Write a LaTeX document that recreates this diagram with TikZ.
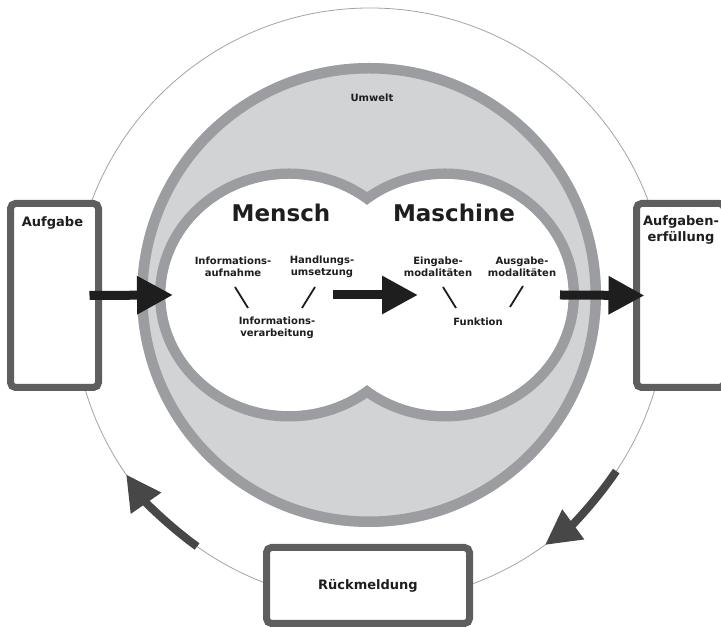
\documentclass[tikz,border=0pt]{standalone}
\usepackage{fontspec}
\setmainfont{DejaVu Sans}
\usepackage{xcolor}
\usepackage{tikz}
\usetikzlibrary{arrows.meta}
\usetikzlibrary{calc}

\definecolor{umweltfill}{HTML}{D2D3D5}
\definecolor{umweltring}{HTML}{9C9DA1}
\definecolor{boxgray}{HTML}{5E5E5E}
\definecolor{fbgray}{HTML}{474747}
\definecolor{thingray}{HTML}{A3A3A3}
\definecolor{textblack}{HTML}{1E1E1E}

\begin{document}
\begin{tikzpicture}[x=1pt,y=1pt,
		title/.style={text=textblack, font=\fontsize{23}{27}\selectfont\bfseries},
		small/.style={text=textblack, font=\fontsize{10}{12.5}\selectfont\bfseries, align=center},
		boxlabel/.style={text=textblack, font=\fontsize{13}{16}\selectfont\bfseries, align=center},
		taskbox/.style={draw=boxgray, line width=7pt, fill=white, rounded corners=5pt, minimum width=88pt, minimum height=184pt},
		tick/.style={draw=textblack, line width=1.8pt},
		bigarrow/.style={draw=textblack, line width=9pt, -{Triangle[length=36pt,width=36pt]}},
		fbarrow/.style={draw=fbgray, line width=8pt, -{Triangle[length=35pt,width=35pt]}}]
		\useasboundingbox (0,0) rectangle (721,628);

		% Kreislauf
		\coordinate (ring) at (370,323);
		\draw[thingray, line width=0.8pt] (ring) circle[radius=297];

		% Umwelt
		\coordinate (umwelt) at (369,333);
		\fill[umweltfill] (umwelt) circle[radius=232];
		\draw[umweltring, line width=10.5pt] (umwelt) circle[radius=226.75];
		\node[small] (umw) at (372,530) {Umwelt};

		% Mensch und Maschine
		\coordinate (mensch) at (289,333);
		\coordinate (maschine) at (445,333);
		\foreach \c in {mensch,maschine}{
			\draw[umweltring, line width=10.5pt] (\c) ellipse[x radius=128.75, y radius=121.25];
		}
		\foreach \c in {mensch,maschine}{
			\fill[white] (\c) ellipse[x radius=123.5, y radius=116];
		}
		\node[title] (tmensch) at (281,415) {Mensch};
		\node[title] (tmaschine) at (454,415) {Maschine};

		% Mensch
		\node[small] (aufn) at (233,361) {Informations-\\aufnahme};
		\node[small] (hand) at (322,361) {Handlungs-\\umsetzung};
		\node[small] (verarb) at (277,300) {Informations-\\verarbeitung};
		\draw[tick] ($(aufn)+(2,-20)$) -- ($(verarb)+(-29,20)$);
		\draw[tick] ($(hand)+(-7,-20)$) -- ($(verarb)+(25,20)$);

		% Maschine
		\node[small] (eing) at (438,361) {Eingabe-\\modalitäten};
		\node[small] (ausg) at (522,361) {Ausgabe-\\modalitäten};
		\node[small] (funk) at (478,306) {Funktion};
		\draw[tick] ($(eing)+(5,-20)$) -- ($(funk)+(-22,14)$);
		\draw[tick] ($(ausg)+(1,-19)$) -- ($(funk)+(32,15)$);

		% Aufgabe, Aufgabenerfuellung, Rueckmeldung
		\node[taskbox] (aufgabe) at (54.5,332.5) {};
		\node[boxlabel] (taufgabe) at ($(aufgabe.north)+(-2,-23)$) {Aufgabe};
		\node[taskbox] (erfuellung) at (680.5,332.5) {};
		\node[boxlabel] (terfuellung) at ($(erfuellung.north)+(0.5,-30)$) {Aufgaben-\\erfüllung};
		\node[taskbox, boxlabel, minimum width=203pt, minimum height=76pt] (rueck) at (368,42.5) {Rückmeldung};

		% Pfeile
		\draw[bigarrow] ([xshift=-12.5pt]aufgabe.east) -- ([xshift=-116pt]mensch);
		\draw[bigarrow] ([xshift=44pt]mensch) -- ([xshift=-27pt]maschine);
		\draw[bigarrow] ([xshift=115pt]maschine) -- ([xshift=11.5pt]erfuellung.west);

		% Rueckkopplung
		\draw[fbarrow] ($(ring)+(-34:297)$) arc[start angle=-34, end angle=-53.9, radius=297];
		\draw[fbarrow] ($(ring)+(234.4:297)$) arc[start angle=234.4, end angle=214.8, radius=297];
	\end{tikzpicture}
\end{document}
